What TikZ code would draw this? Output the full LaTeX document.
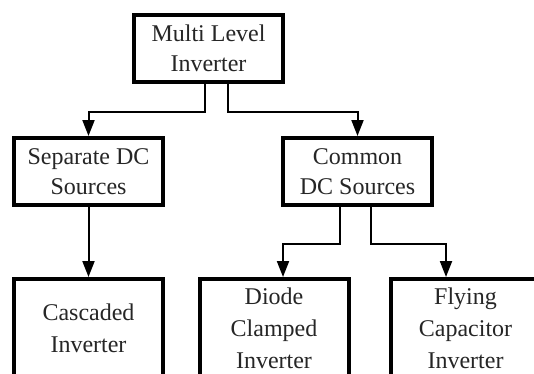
\documentclass[tikz,border=0pt]{standalone}
\usepackage{fontspec}
\setmainfont{Liberation Serif}
\usetikzlibrary{arrows.meta}
\begin{document}
\begin{tikzpicture}[x=1pt,y=-1pt,
  box/.style={draw=black,line width=4pt,align=center,text=black!85,
    font=\fontsize{24}{30}\selectfont,inner sep=0pt,
    minimum width=149pt,minimum height=67pt},
  tallbox/.style={box,font=\fontsize{24}{32}\selectfont,minimum height=99pt},
  conn/.style={draw=black,line width=2pt,-{Triangle[length=16pt,width=12pt]}}]
\useasboundingbox (0,0) rectangle (534,373);
\clip (0,0) rectangle (534,373);
\fill[white] (0,0) rectangle (534,373);
\node[box] (top) at (208.5,48) {Multi Level\\Inverter};
\node[box] (sep) at (88.5,171.5) {Separate DC\\Sources};
\node[box] (com) at (357.5,171.5) {Common\\DC Sources};
\node[tallbox] (cas) at (88.5,328.5) {Cascaded\\Inverter};
\node[tallbox] (dio) at (274,328.5) {Diode\\Clamped\\Inverter};
\node[tallbox] (fly) at (465.5,328.5) {Flying\\Capacitor\\Inverter};
\draw[conn] ([xshift=-3.5pt]top.south) -- ++(0,28) -| (sep.north);
\draw[conn] ([xshift=19.5pt]top.south) -- ++(0,28) -| (com.north);
\draw[conn] (sep.south) -- (cas.north);
\draw[conn] ([xshift=-17.5pt]com.south) -- ++(0,37) -| ([xshift=9pt]dio.north);
\draw[conn] ([xshift=13.5pt]com.south) -- ++(0,37) -| ([xshift=-19.5pt]fly.north);
\end{tikzpicture}
\end{document}
